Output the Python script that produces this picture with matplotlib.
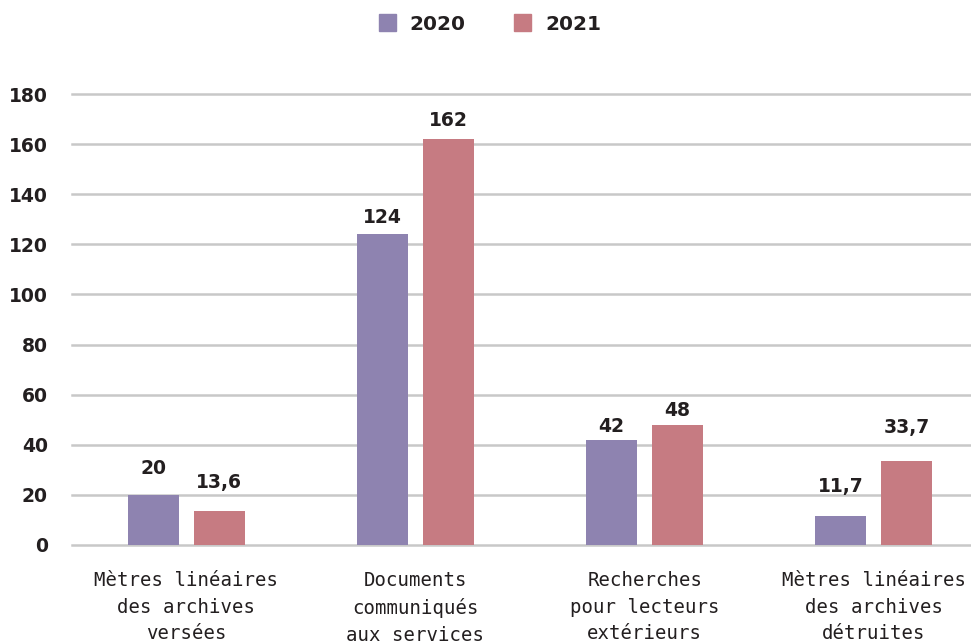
import matplotlib
matplotlib.use("Agg")
import matplotlib.pyplot as plt
import numpy as np
from matplotlib.patches import Patch

categories = ["Mètres linéaires\ndes archives\nversées",
              "Documents\ncommuniqués\naux services",
              "Recherches\npour lecteurs\nextérieurs",
              "Mètres linéaires\ndes archives\ndétruites"]
series_names = ["2020", "2021"]
values_2020 = [20, 124, 42, 11.7]
values_2021 = [13.6, 162, 48, 33.7]
labels_2020 = ["20", "124", "42", "11,7"]
labels_2021 = ["13,6", "162", "48", "33,7"]
yticks = [0, 20, 40, 60, 80, 100, 120, 140, 160, 180]

# label gap above bar top (pixels), as placed in the original layout
gap_2020 = [21, 11, 8, 24]
gap_2021 = [23, 13, 9, 28]

c2020 = "#8E83B0"
c2021 = "#C67B82"
txt = "#231F20"

plt.rcParams['font.family'] = ['DejaVu Sans']

fig = plt.figure(figsize=(9.71, 6.43), dpi=100)
ax = fig.add_axes([71.5/971, 1-545/643, (971-71.5)/971, (545-94)/643])

x = np.arange(len(categories))
w = 0.223
off = 0.144
b1 = ax.bar(x - off, values_2020, w, color=c2020, zorder=3)
b2 = ax.bar(x + off, values_2021, w, color=c2021, zorder=3)

for bars, labs, gaps in ((b1, labels_2020, gap_2020), (b2, labels_2021, gap_2021)):
    for rect, lab, g in zip(bars, labs, gaps):
        ax.annotate(lab, (rect.get_x() + rect.get_width()/2, rect.get_height()),
                    xytext=(0, g * 0.72), textcoords="offset points",
                    ha="center", va="baseline", fontsize=13.5, color=txt,
                    fontweight="bold")

ax.set_ylim(0, 180)
ax.set_xlim(-0.5, 3.5 - (988.5-971)/229)
ax.set_yticks(yticks)
ax.set_yticklabels([str(t) for t in yticks], fontsize=13.5, color=txt,
                   fontweight="bold")
ax.set_xticks(x)
ax.set_xticklabels(categories, fontsize=13.7, color=txt, linespacing=1.5,
                   family="DejaVu Sans Mono")
ax.tick_params(axis="both", length=0)
ax.tick_params(axis="y", pad=17)
ax.tick_params(axis="x", pad=19)
ax.yaxis.grid(True, color="#C8C8C8", linewidth=1.8, zorder=0)
for gl in ax.get_ygridlines():
    gl.set_clip_on(False)
ax.set_axisbelow(True)
for s in ax.spines.values():
    s.set_visible(False)

handles = [Patch(color=c2020, label="2020"), Patch(color=c2021, label="2021")]
fig.legend(handles=handles, loc="center", bbox_to_anchor=(490/971, 1-24/643),
           ncol=2, frameon=False, prop={"size": 14.5, "weight": "bold"},
           handlelength=0.85, handleheight=0.85, columnspacing=2.4,
           handletextpad=0.7, labelcolor=txt)

fig.savefig("out.png", dpi=100)
